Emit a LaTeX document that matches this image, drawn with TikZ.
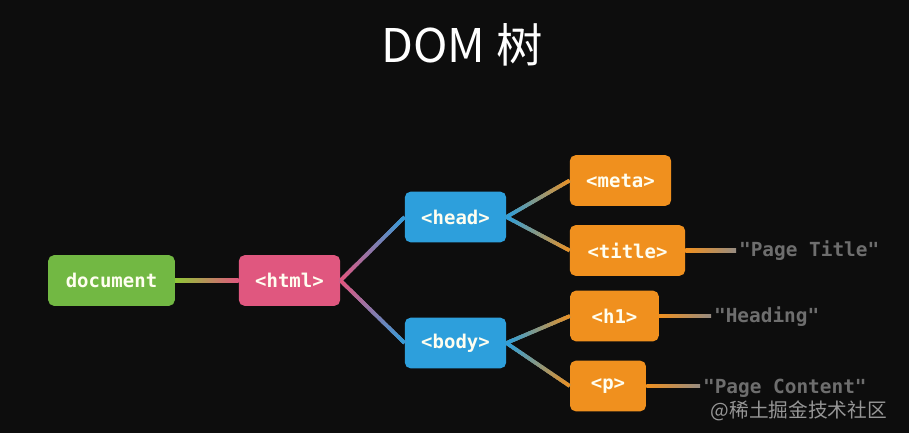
\documentclass[tikz,border=0pt]{standalone}
\usepackage{fontspec}
\setmonofont{DejaVu Sans Mono}
\newfontfamily\cjk{Noto Sans CJK SC}
\definecolor{bgblack}{RGB}{13, 13, 13}
\definecolor{docgreen}{RGB}{114, 184, 67}
\definecolor{htmlpink}{RGB}{224, 87, 127}
\definecolor{tagblue}{RGB}{45, 159, 220}
\definecolor{leaforange}{RGB}{240, 144, 30}
\definecolor{textgray}{RGB}{110, 110, 110}
\definecolor{linegray}{RGB}{150, 140, 130}
\definecolor{markgray}{RGB}{150, 150, 150}
\usetikzlibrary{positioning, calc}

\tikzset{
  tagbox/.style={rounded corners=4pt, minimum height=36pt, inner sep=0pt,
    text=white!94!yellow, font=\ttfamily\bfseries\fontsize{13.5}{16}\selectfont},
  leaftext/.style={anchor=west, inner sep=2pt, text=textgray,
    font=\ttfamily\bfseries\fontsize{13.8}{16}\selectfont},
  edge/.style={line width=2.6pt, line cap=butt}
}

% slanted connector whose colour runs from #3 to #4
\newcommand{\gradedge}[4]{%
  \draw[edge, draw=#3!50!#4] (#1) -- (#2);
  \foreach \k in {0,...,19} {
    \pgfmathtruncatemacro\pct{100-5*\k}
    \pgfmathsetmacro\upto{min((\k+1.4)/20,1)}
    \draw[edge, draw=#3!\pct!#4] ($(#1)!\k/20!(#2)$) -- ($(#1)!\upto!(#2)$);
  }%
}
% level connector, shaded from #3 to #4
\newcommand{\gradbar}[4]{%
  \shade[left color=#3, right color=#4] ($(#1)+(0,-1.3pt)$) rectangle ($(#2 |- #1)+(0,1.3pt)$);%
}

\begin{document}
\begin{tikzpicture}[x=0.025cm, y=-0.025cm]
  % background
  \fill[bgblack] (0,0) rectangle (909,433);
  \useasboundingbox (0,0) rectangle (909,433);

  % title
  \node[text=white, font=\cjk\fontsize{33}{38}\selectfont] (heading) at (462,45) {DOM 树};

  % tree nodes
  \node[tagbox, fill=docgreen, minimum width=90pt] (doc) at (111.5,280.5) {document};
  \node[tagbox, fill=htmlpink, minimum width=72pt] (html) at (289.5,280.5) {<html>};
  \node[tagbox, fill=tagblue, minimum width=72pt] (head) at (455.5,217) {<head>};
  \node[tagbox, fill=tagblue, minimum width=72pt] (body) at (455.5,343) {<body>};
  \node[tagbox, fill=leaforange, minimum width=72pt] (meta) at (620.5,180.5) {<meta>};
  \node[tagbox, fill=leaforange, minimum width=82pt] (title) at (627.5,250.5) {<title>};
  \node[tagbox, fill=leaforange, minimum width=63pt] (hone) at (614.5,316) {<h1>};
  \node[tagbox, fill=leaforange, minimum width=54pt] (para) at (608,386) {<p>};

  % text nodes
  \node[leaftext] (ptitle) at (736,250.5) {"Page Title"};
  \node[leaftext] (pheading) at (711,317) {"Heading"};
  \node[leaftext] (pcontent) at (700,388) {"Page Content"};

  % connectors
  \gradbar{doc.east}{html.west}{docgreen!80!yellow}{htmlpink}
  \gradedge{html.east}{head.west}{htmlpink}{tagblue}
  \gradedge{html.east}{body.west}{htmlpink}{tagblue}
  \gradedge{head.east}{meta.west}{tagblue}{leaforange}
  \gradedge{head.east}{title.west}{tagblue}{leaforange}
  \gradedge{body.east}{hone.west}{tagblue}{leaforange}
  \gradedge{body.east}{para.west}{tagblue}{leaforange}
  \gradbar{title.east}{ptitle.west}{leaforange}{linegray}
  \gradbar{hone.east}{pheading.west}{leaforange}{linegray}
  \gradbar{para.east}{pcontent.west}{leaforange}{linegray}

  % watermark
  \node[anchor=east, text=markgray, font=\cjk\fontsize{14}{16}\selectfont] (mark) at (892,411) {@稀土掘金技术社区};
\end{tikzpicture}
\end{document}
